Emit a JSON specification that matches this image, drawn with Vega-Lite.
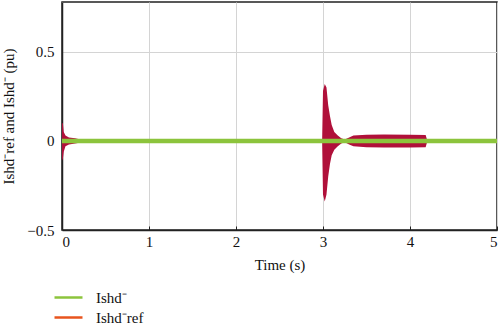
{
  "$schema": "https://vega.github.io/schema/vega-lite/v6.json",
  "width": 435,
  "height": 228,
  "autosize": {"type": "none"},
  "padding": {"left": 62, "top": 2, "right": 3, "bottom": 102},
  "background": "white",
  "config": {
    "font": "Liberation Serif",
    "view": {"stroke": "#222", "strokeWidth": 1.5},
    "axis": {"labelFont": "Liberation Serif", "titleFont": "Liberation Serif", "labelFontSize": 15, "titleFontSize": 15, "titleFontWeight": "normal", "labelColor": "#111", "titleColor": "#111", "gridColor": "#d4d4d4", "gridWidth": 1, "domainColor": "#222", "domainWidth": 1.5, "tickColor": "#222"}
  },
  "datasets": {
    "lines": [
      {"t": 0, "v": 0, "series": "Ishd⁻ref"},
      {"t": 5, "v": 0, "series": "Ishd⁻ref"},
      {"t": 0, "v": 0, "series": "Ishd⁻"},
      {"t": 5, "v": 0, "series": "Ishd⁻"}
    ],
    "envelope": [
      {"t": 0.0, "lo": -0.11, "hi": 0.1, "burst": "a"},
      {"t": 0.01, "lo": -0.1, "hi": 0.1, "burst": "a"},
      {"t": 0.02, "lo": -0.06, "hi": 0.05, "burst": "a"},
      {"t": 0.04, "lo": -0.03, "hi": 0.03, "burst": "a"},
      {"t": 0.08, "lo": -0.02, "hi": 0.02, "burst": "a"},
      {"t": 0.15, "lo": -0.015, "hi": 0.015, "burst": "a"},
      {"t": 0.2, "lo": -0.01, "hi": 0.01, "burst": "a"},
      {"t": 2.99, "lo": 0, "hi": 0, "burst": "b"},
      {"t": 3.0, "lo": -0.3, "hi": 0.28, "burst": "b"},
      {"t": 3.02, "lo": -0.34, "hi": 0.32, "burst": "b"},
      {"t": 3.04, "lo": -0.3, "hi": 0.3, "burst": "b"},
      {"t": 3.06, "lo": -0.2, "hi": 0.2, "burst": "b"},
      {"t": 3.08, "lo": -0.13, "hi": 0.14, "burst": "b"},
      {"t": 3.1, "lo": -0.08, "hi": 0.09, "burst": "b"},
      {"t": 3.13, "lo": -0.05, "hi": 0.05, "burst": "b"},
      {"t": 3.17, "lo": -0.03, "hi": 0.03, "burst": "b"},
      {"t": 3.21, "lo": -0.015, "hi": 0.015, "burst": "b"},
      {"t": 3.25, "lo": -0.008, "hi": 0.008, "burst": "b"},
      {"t": 3.3, "lo": -0.02, "hi": 0.02, "burst": "b"},
      {"t": 3.35, "lo": -0.03, "hi": 0.03, "burst": "b"},
      {"t": 3.5, "lo": -0.035, "hi": 0.035, "burst": "b"},
      {"t": 3.7, "lo": -0.037, "hi": 0.036, "burst": "b"},
      {"t": 4.0, "lo": -0.037, "hi": 0.035, "burst": "b"},
      {"t": 4.18, "lo": -0.035, "hi": 0.033, "burst": "b"},
      {"t": 4.2, "lo": 0, "hi": 0, "burst": "b"}
    ]
  },
  "layer": [
    {
      "data": {"name": "lines"},
      "transform": [{"filter": "datum.series === 'Ishd⁻ref'"}],
      "mark": {"type": "line", "strokeWidth": 2.5},
      "encoding": {
        "x": {"field": "t", "type": "quantitative", "scale": {"domain": [0, 5], "nice": false}, "axis": {"values": [0, 1, 2, 3, 4, 5], "format": "d", "title": "Time (s)", "tickSize": -4, "labelPadding": 8, "titlePadding": 8}},
        "y": {"field": "v", "type": "quantitative", "scale": {"domain": [-0.5, 0.78], "nice": false, "zero": false}, "axis": {"values": [-0.5, 0, 0.5], "format": "~g", "title": "Ishd⁻ref and Ishd⁻ (pu)", "tickSize": 0, "labelPadding": 8, "titlePadding": 10}},
        "color": {"field": "series", "type": "nominal", "scale": {"domain": ["Ishd⁻", "Ishd⁻ref"], "range": ["#8cc43c", "#e8541e"]},
          "legend": {"orient": "none", "legendX": -5, "legendY": 284, "title": null, "symbolType": "M-1.4,0H1.4", "symbolSize": 400, "symbolStrokeWidth": 2.5, "labelFont": "Liberation Serif", "labelFontSize": 15, "labelColor": "#111", "rowPadding": 0, "labelOffset": 16}}
      }
    },
    {
      "data": {"name": "envelope"},
      "mark": {"type": "area", "color": "#b0103a", "opacity": 1},
      "encoding": {
        "x": {"field": "t", "type": "quantitative"},
        "y": {"field": "lo", "type": "quantitative"},
        "y2": {"field": "hi"},
        "detail": {"field": "burst"}
      }
    },
    {
      "data": {"name": "lines"},
      "transform": [{"filter": "datum.series === 'Ishd⁻'"}],
      "mark": {"type": "line", "strokeWidth": 4.5},
      "encoding": {
        "x": {"field": "t", "type": "quantitative"},
        "y": {"field": "v", "type": "quantitative"},
        "color": {"field": "series", "type": "nominal"}
      }
    }
  ]
}
